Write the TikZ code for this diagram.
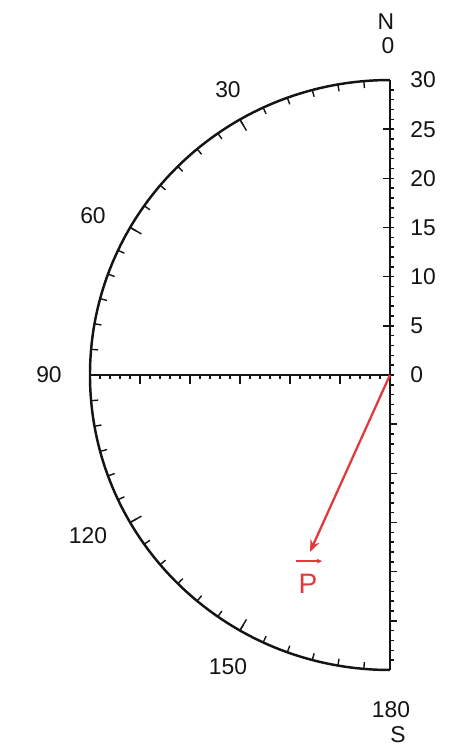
\documentclass[tikz,border=0pt]{standalone}
\usepackage{fontspec}
\setmainfont{Liberation Sans}
\usetikzlibrary{arrows.meta}
\definecolor{ink}{HTML}{141414}
\definecolor{vecred}{HTML}{E23A3C}

\begin{document}
\begin{tikzpicture}[x=0.2cm,y=0.19667cm,>={Stealth[length=2.4mm,width=1.9mm]},
   lbl/.style={inner sep=0pt,font=\fontsize{13}{15}\selectfont,text=ink},
   axis/.style={ink,line width=1.4pt},
   tk/.style={ink,line width=0.8pt}]
  \useasboundingbox (-39,-38.24) rectangle (6,38.14);
  \coordinate (O) at (0,0);
  \coordinate (N) at (0,30);
  \coordinate (S) at (0,-30);
  \coordinate (W) at (-30,0);
  \coordinate (tip) at (-8,-18);
  % compass arc and axes
  \draw[axis] (N) arc[start angle=90,end angle=270,radius=30];
  \draw[axis] (N) -- (S);
  \draw[axis] (W) -- (O);
  % ticks on the arc
  \foreach \a in {5,10,...,175}{\draw[tk] (90+\a:30) -- (90+\a:29.3);}
  \foreach \a in {30,60,120,150}{\draw[tk] (90+\a:30) -- (90+\a:28.7);}
  % ticks on the axes
  \foreach \k in {-29,...,29}{\draw[tk] (0,\k) -- (0.4,\k);}
  \foreach \k in {5,10,...,25}{\draw[tk] (0,\k) -- (-0.7,\k); \draw[tk] (0,-\k) -- (0.7,-\k);}
  \foreach \k in {1,...,29}{\draw[tk] (-\k,0) -- (-\k,-0.4);}
  \foreach \k in {5,10,...,25}{\draw[tk] (-\k,0) -- (-\k,-0.9);}
  % labels
  \node[lbl] (lN) at (-0.4,35.9) {N};
  \node[lbl] (l0) at (-0.2,33.5) {0};
  \node[lbl] (l180) at (0.1,-34.0) {180};
  \node[lbl] (lS) at (0.8,-36.6) {S};
  \foreach \k in {0,5,...,30}{\node[lbl,anchor=west] (v\k) at (2.0,\k) {\k};}
  \foreach \a/\x/\y in {30/-16.2/29.0,60/-29.7/16.2,90/-34.1/0,120/-30.2/-16.3,150/-16.2/-29.7}{
    \node[lbl] (d\a) at (\x,\y) {\a};}
  % vector
  \draw[vecred,line width=1.3pt,->] (O) -- (tip);
  \node[text=vecred,inner sep=0pt,font=\fontsize{16}{18}\selectfont] (P) at (-8.2,-21.2) {P};
  \draw[vecred,line width=0.8pt,-{Stealth[length=1.1mm,width=1mm]}]
    ([xshift=-1.5pt,yshift=7pt]P.north west) -- ([xshift=2.5pt,yshift=7pt]P.north east);
\end{tikzpicture}
\end{document}
